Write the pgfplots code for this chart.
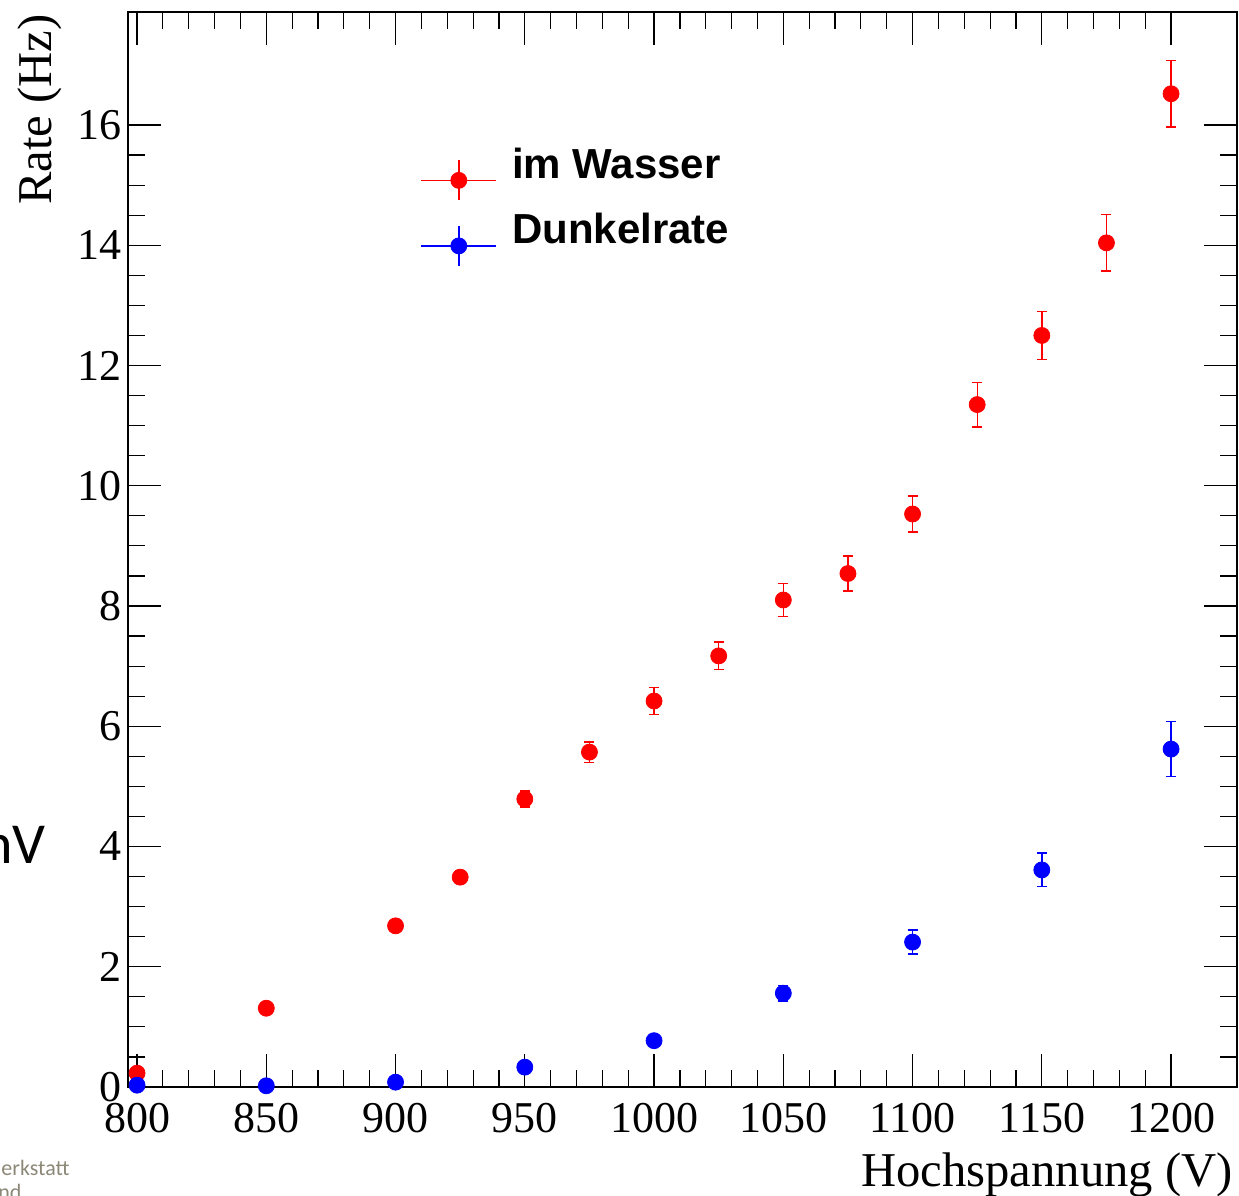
\documentclass[border=0pt]{standalone}
\usepackage{fontspec}
\setmainfont{Liberation Serif}
\newfontfamily\arialfont{Liberation Sans}
\newfontfamily\calibrifont{Carlito}
\usepackage{pgfplots}
\pgfplotsset{compat=1.18}
\usetikzlibrary{calc}

\pgfplotstableread{
x y e
800 0.23 0.05
850 1.31 0.07
900 2.68 0.09
925 3.49 0.10
950 4.79 0.13
975 5.57 0.17
1000 6.42 0.22
1025 7.17 0.23
1050 8.10 0.27
1075 8.54 0.29
1100 9.53 0.30
1125 11.35 0.37
1150 12.50 0.40
1175 14.04 0.47
1200 16.52 0.55
}\wasser

\pgfplotstableread{
x y e
800 0.03 0.02
850 0.02 0.02
900 0.08 0.03
950 0.33 0.06
1000 0.77 0.09
1050 1.56 0.13
1100 2.41 0.20
1150 3.61 0.28
1200 5.62 0.46
}\dunkel

\pgfplotsset{
  rootleg/.style={legend image code/.code={
    \draw[#1, line width=0.8pt] (0pt,-8pt) -- (37.5pt,-8pt);
    \draw[#1, line width=0.8pt] (18.75pt,-18pt) -- (18.75pt,2pt);
    \fill[#1] (18.75pt,-8pt) circle (4pt);
  }},
}

\begin{document}
\begin{tikzpicture}
\begin{axis}[name=ax, at={(0,0)}, anchor=south west,
  scale only axis, width=554.5pt, height=537.5pt,
  xmin=796.5, xmax=1225.5, ymin=0, ymax=17.88,
  xtick={800,850,...,1200}, ytick={0,2,...,16},
  minor x tick num=4, minor y tick num=3,
  tick align=inside,
  major tick length=16.5pt, minor tick length=8.5pt,
  every tick/.style={black, line width=0.6pt},
  axis line style={line width=0.8pt},
  tick label style={font=\rmfamily\fontsize{22}{22}\selectfont, inner sep=0pt},
  xticklabel style={yshift=-8pt},
  yticklabel style={xshift=-3pt},
  /pgf/number format/assume math mode=true,
  /pgf/number format/1000 sep={},
  scaled ticks=false,
  xlabel={Hochspannung (V)},
  ylabel={Rate (Hz)},
  label style={font=\rmfamily\fontsize{24.3}{24.3}\selectfont, inner sep=0pt},
  xlabel style={at={(rel axis cs:1,0)}, anchor=north east, yshift=-32.5pt, xshift=-2pt},
  ylabel style={at={(rel axis cs:0,1)}, anchor=base east, yshift=38pt, xshift=-1pt},
  legend style={at={(axis cs:909.5,15.63)}, anchor=north west, draw=none, fill=none,
    inner sep=0pt, row sep=6pt,
    font=\arialfont\bfseries\fontsize{21}{21}\selectfont,
    nodes={inner sep=0pt}},
  legend cell align=left,
]
\addplot+[forget plot, only marks, mark=*, mark size=4pt, color=red,
  mark options={fill=red, draw=red},
  error bars/.cd, y dir=both, y explicit,
  error bar style={line width=0.7pt, red},
  error mark options={rotate=90, mark size=2.5pt, red, line width=0.7pt}]
  table[x=x, y=y, y error=e]{\wasser};
\addplot+[forget plot, only marks, mark=*, mark size=4pt, color=blue,
  mark options={fill=blue, draw=blue},
  error bars/.cd, y dir=both, y explicit,
  error bar style={line width=0.7pt, blue},
  error mark options={rotate=90, mark size=2.5pt, blue, line width=0.7pt}]
  table[x=x, y=y, y error=e]{\dunkel};
\addlegendimage{red, rootleg}
\addlegendentry{\hspace{7.5pt}im Wasser}
\addlegendimage{blue, rootleg}
\addlegendentry{\hspace{7.5pt}Dunkelrate}
\end{axis}
\node[anchor=east, inner sep=0pt, font=\calibrifont\fontsize{29}{29}\selectfont] at ($(ax.south west)+(-41pt,121pt)$) {nV};
\node[anchor=east, inner sep=0pt, text={rgb,255:red,140;green,136;blue,120}, font=\calibrifont\fontsize{11}{11}\selectfont] at ($(ax.south west)+(-29pt,-40.5pt)$) {erkstatt};
\node[anchor=west, inner sep=0pt, text={rgb,255:red,140;green,136;blue,120}, font=\calibrifont\fontsize{11}{11}\selectfont] at ($(ax.south west)+(-65pt,-52.5pt)$) {nd};
\pgfresetboundingbox
\path ($(ax.south west)+(-64pt,-54.5pt)$) rectangle ($(ax.north east)+(1pt,6pt)$);
\end{tikzpicture}
\end{document}
